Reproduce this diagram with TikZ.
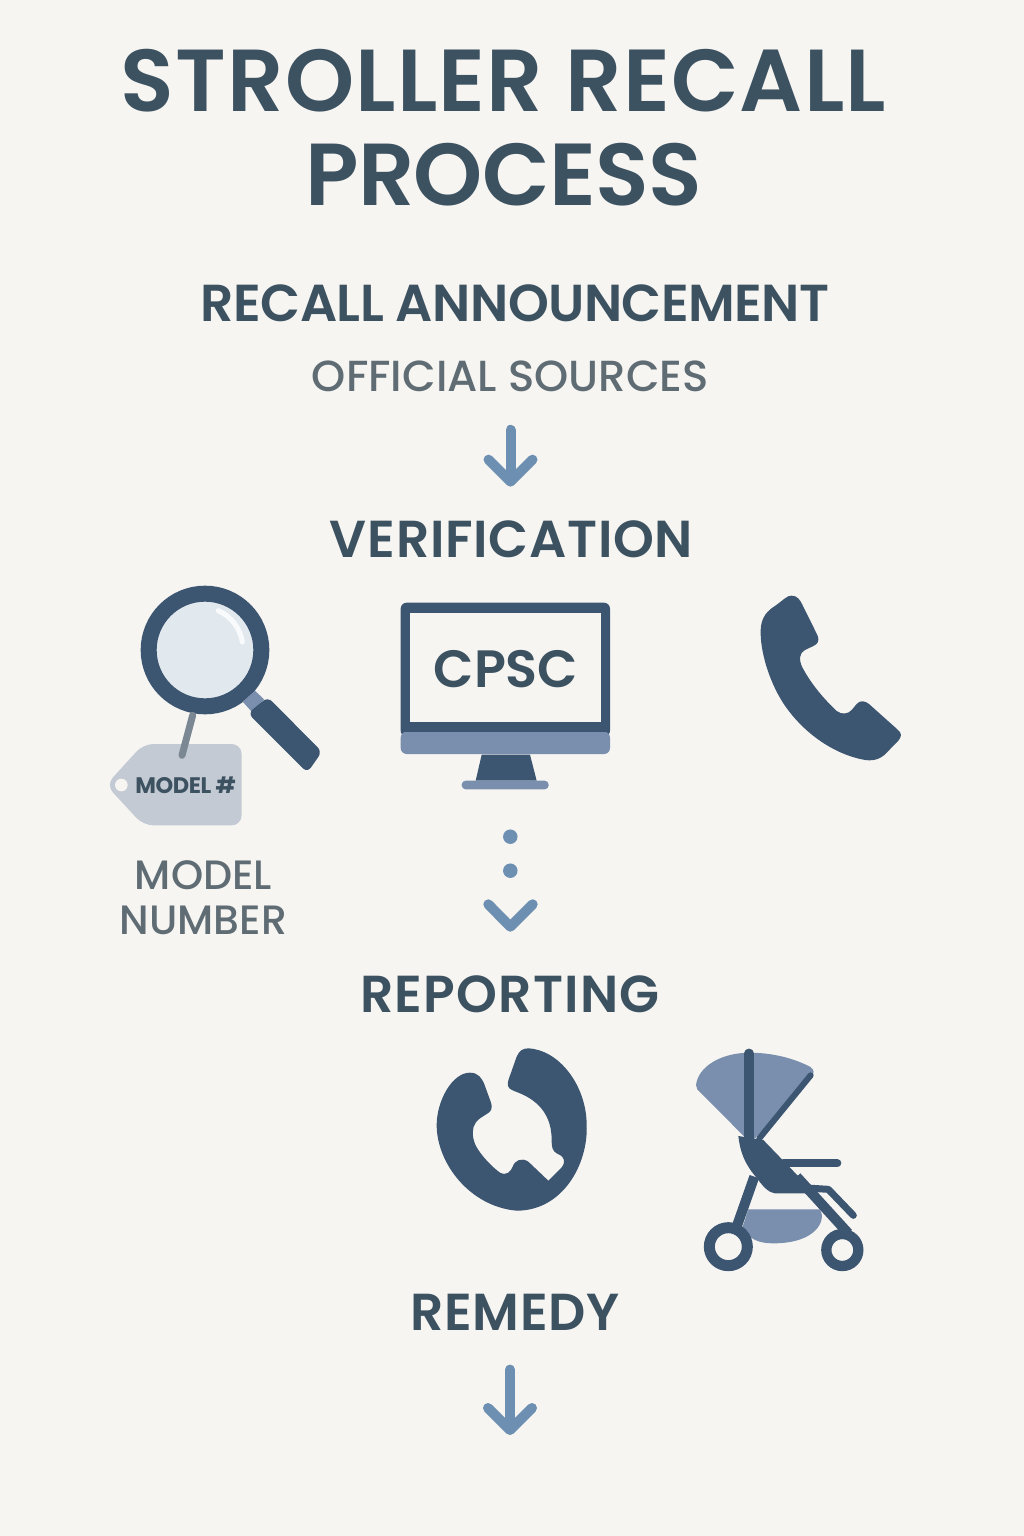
\documentclass[tikz,border=0pt]{standalone}
\usepackage{fontspec}
\setmainfont{Poppins}[BoldFont={Poppins SemiBold}]
\newfontfamily\medfont{Poppins Medium}
\newfontfamily\tagfont{Poppins Bold}
\newcommand{\trk}[1]{\addfontfeature{LetterSpace=#1}}
\usetikzlibrary{arrows.meta}
\definecolor{paper}{HTML}{F6F5F2}
\definecolor{ink}{HTML}{3D5261}
\definecolor{iconDark}{HTML}{3C5570}
\definecolor{iconMid}{HTML}{7A8FAD}
\definecolor{flowBlue}{HTML}{6D8FB1}
\definecolor{subGrey}{HTML}{5F6C74}
\definecolor{lens}{HTML}{E2E9EE}
\definecolor{tagGrey}{HTML}{C4CAD4}
\definecolor{stemGrey}{HTML}{7C8794}
\tikzset{
  headA/.style={font=\fontsize{88}{88}\bfseries\selectfont,text=ink,anchor=base},
  headB/.style={font=\fontsize{52}{52}\bfseries\selectfont,text=ink,anchor=base},
  subA/.style={font=\fontsize{41}{41}\medfont\selectfont,text=subGrey,anchor=base},
  flow/.style={line width=10pt,color=flowBlue,line cap=round,-{Straight Barb[round,length=22pt,width=44pt]}},
  dotmark/.style={circle,fill=flowBlue,minimum size=14.5pt,inner sep=0pt},
  midfill/.style={fill=iconMid,draw=none},
}
\begin{document}
\begin{tikzpicture}[x=1pt,y=-1pt]
  \fill[paper] (0,0) rectangle (1024,1536);
  \useasboundingbox (0,0) rectangle (1024,1536);

  \node[headA] (title1) at (503.5,112) {\trk{1.4}STROLLER RECALL};
  \node[headA] (title2) at (503.5,205) {\trk{-0.8}PROCESS};
  \node[headB] (announce) at (515,321) {\trk{-1}RECALL ANNOUNCEMENT};
  \node[subA,font=\fontsize{43.5}{43.5}\medfont\selectfont] (sources) at (510.5,391) {OFFICIAL SOURCES};
  \node[headB] (verify) at (511.5,557) {\trk{1.4}VERIFICATION};
  \node[subA] (model1) at (203.5,889) {MODEL};
  \node[subA] (model2) at (203.5,934) {NUMBER};
  \node[headB] (report) at (510,1012) {\trk{2.4}REPORTING};
  \node[headB] (remedy) at (515,1330) {\trk{1.5}REMEDY};

  \draw[flow,shorten <=35pt,shorten >=30pt] (sources.south) -- (sources.south |- verify.north);
  \coordinate (lastEnd) at (510,1435);
  \draw[flow,shorten <=36pt] (lastEnd |- remedy.south) -- (lastEnd);

  \begin{scope}[shift={(90,570)},scale=1/3]
    \filldraw[fill=lens,draw=iconDark,line width=16pt] (345,240) circle (169);
    \draw[white,line width=5pt,line cap=round,opacity=.8] (385,122) .. controls (425,140) and (450,175) .. (457,216);
    \fill[iconMid] (458,395) -- (495,362) -- (522,388) -- (485,425) -- cycle;
    \fill[iconDark,rounded corners=6pt] (533,381) -- (696,545) -- (652,608) -- (474,430) -- cycle;
    \fill[tagGrey,rounded corners=10pt] (160,522) -- (455,522) -- (455,766) -- (160,766) -- (48,645) -- cycle;
    \fill[paper] (94,645) circle (19);
    \draw[stemGrey,line width=7pt,line cap=round] (308,436) -- (276,556);
    \node[font=\fontsize{22.5}{22.5}\tagfont\selectfont,text=ink] (tag) at (287,645) {\trk{-2}MODEL \#};
  \end{scope}

  \begin{scope}[shift={(390,590)},scale=1/3]
    \fill[iconDark,rounded corners=6pt] (32,38) rectangle (660,440);
    \fill[midfill,rounded corners=6pt] (32,425) -- (32,492) -- (660,492) -- (660,425) -- cycle;
    \fill[iconDark] (32,415) rectangle (660,425);
    \fill[paper] (60,68) rectangle (634,396);
    \fill[iconDark] (275,494) -- (420,494) -- (440,572) -- (257,572) -- cycle;
    \fill[midfill,rounded corners=4pt] (215,572) rectangle (476,598);
    \node[font=\fontsize{52.5}{52.5}\bfseries\selectfont,text=ink] (cpsc) at (348,238) {CPSC};
  \end{scope}

  \node[dotmark] (dot1) at (510.3,836.7) {};
  \node[dotmark] (dot2) at (510.3,870.7) {};
  \coordinate (chevL) at (488.3,904.3);
  \coordinate (chevM) at (510.3,926.7);
  \coordinate (chevR) at (532.7,904.3);
  \draw[flowBlue,line width=10pt,line cap=round,line join=round] (chevL) -- (chevM) -- (chevR);

  \begin{scope}[shift={(740,580)},scale=1/3]
    \fill[iconDark] (155,47) .. controls (172,47) and (180,60) .. (186,72)
      -- (232,165) .. controls (240,185) and (232,192) .. (220,198)
      -- (195,210) .. controls (178,218) and (176,240) .. (187,262)
      .. controls (215,315) and (255,360) .. (290,393)
      .. controls (305,405) and (325,402) .. (335,390)
      -- (350,372) .. controls (360,360) and (375,362) .. (387,372)
      -- (472,448) .. controls (487,460) and (485,470) .. (475,482)
      -- (440,518) .. controls (420,540) and (395,545) .. (365,538)
      .. controls (280,520) and (190,460) .. (130,370)
      .. controls (85,300) and (60,210) .. (62,150)
      .. controls (63,110) and (85,90) .. (105,78)
      -- (135,55) .. controls (142,49) and (148,47) .. (155,47) -- cycle;
  \end{scope}

  \begin{scope}[shift={(420,1030)},scale=1/3]
    \fill[iconDark] (325,55) .. controls (420,60) and (500,170) .. (500,285)
      .. controls (505,400) and (430,542) .. (290,542)
      .. controls (150,530) and (50,400) .. (50,285)
      .. controls (50,215) and (95,128) .. (150,128)
      .. controls (175,128) and (185,145) .. (192,160)
      -- (212,215) .. controls (220,238) and (212,245) .. (200,252)
      -- (180,265) .. controls (160,280) and (155,300) .. (160,325)
      .. controls (165,360) and (215,410) .. (240,428)
      .. controls (260,438) and (272,425) .. (278,410)
      .. controls (285,390) and (305,382) .. (325,395)
      -- (385,452) -- (425,412)
      .. controls (438,395) and (432,382) .. (420,375)
      -- (410,370) .. controls (398,362) and (395,355) .. (395,330)
      .. controls (395,260) and (360,215) .. (300,190)
      -- (280,182) .. controls (262,175) and (260,165) .. (267,145)
      -- (290,80) .. controls (298,62) and (308,55) .. (325,55) -- cycle;

    \fill[midfill] (985,538) -- (1200,538) .. controls (1220,570) and (1190,640) .. (1060,640)
      .. controls (1020,640) and (985,630) .. (968,590) -- cycle;
    \fill[midfill] (828,165) .. controls (835,110) and (900,70) .. (985,68)
      .. controls (1060,68) and (1120,85) .. (1170,110)
      .. controls (1185,120) and (1182,130) .. (1175,140)
      -- (1005,325) -- (975,322) -- (832,178) -- cycle;
    \draw[iconDark,line width=6pt,line cap=round] (1172,136) -- (1018,325);
    \draw[iconDark,line width=9.5pt,line cap=round] (987,70) -- (987,330);
    \draw[iconDark,line width=10pt] (1003,440) -- (950,590);
    \draw[iconDark,line width=10pt] (1130,440) -- (1285,610);
    \draw[iconDark,line width=7pt,line cap=round,line join=round] (1160,474) -- (1225,478) -- (1300,556);
    \draw[iconDark,line width=8pt,line cap=round] (1090,400) -- (1252,400);
    \fill[iconDark] (955,318) -- (1030,330) -- (1170,475) -- (1160,490) -- (1065,490)
      .. controls (1045,488) and (1030,470) .. (1015,450)
      -- (995,425) .. controls (970,390) and (960,360) .. (955,318) -- cycle;
    \draw[iconDark,line width=11pt,fill=paper] (925,650) circle (57);
    \draw[iconDark,line width=10.3pt,fill=paper] (1267,660) circle (48);
  \end{scope}
\end{tikzpicture}
\end{document}
